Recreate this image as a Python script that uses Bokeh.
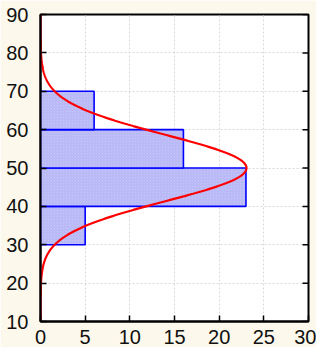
import numpy as np
from bokeh.plotting import figure
from bokeh.models import FixedTicker, Range1d
from bokeh.embed import file_html
from bokeh.resources import INLINE

# Histogram data (horizontal bars)
bin_lower = [30, 40, 50, 60]
bin_upper = [40, 50, 60, 70]
counts = [5, 23, 16, 6]

# Fitted normal curve parameters
fit_mean = 50.0
fit_sd = 8.65
n_obs = sum(counts)
bin_width = 10

x_ticks = [0, 5, 10, 15, 20, 25, 30]
y_ticks = [10, 20, 30, 40, 50, 60, 70, 80, 90]

BG = "#fdf8ec"
FONT = "Liberation Sans"

p = figure(width=316, height=347, output_backend="svg", toolbar_location=None,
           x_range=Range1d(0, 30), y_range=Range1d(10, 90),
           background_fill_color="white", border_fill_color=BG,
           min_border_left=40, min_border_right=8, min_border_top=14, min_border_bottom=26)

p.xaxis.ticker = FixedTicker(ticks=x_ticks)
p.yaxis.ticker = FixedTicker(ticks=y_ticks)
for ax in (p.xaxis[0], p.yaxis[0]):
    ax.major_tick_in = 6
    ax.major_tick_out = 0
    ax.minor_tick_line_color = None
    ax.axis_line_width = 2
    ax.axis_line_color = "black"
    ax.major_tick_line_color = "black"
    ax.major_tick_line_width = 1.5
    ax.major_label_text_font = FONT
    ax.major_label_text_font_size = "20px"
    ax.major_label_text_color = "#111111"
p.xaxis.major_label_standoff = 8
p.yaxis.major_label_standoff = 12

p.outline_line_color = "black"
p.outline_line_width = 2

p.grid.grid_line_color = "#d8d8d8"
p.grid.grid_line_dash = "2 2"
p.grid.grid_line_width = 1

centers = [(a + b) / 2 for a, b in zip(bin_lower, bin_upper)]
heights = [b - a for a, b in zip(bin_lower, bin_upper)]
p.hbar(y=centers, left=0, right=counts, height=heights,
       fill_color="#c4c4fb", line_color="#0000ff", line_width=1.6,
       hatch_pattern="/", hatch_color="#aaaaee", hatch_scale=3, hatch_weight=0.6)

ys = np.linspace(10, 90, 400)
xs = n_obs * bin_width / (fit_sd * np.sqrt(2 * np.pi)) * np.exp(-0.5 * ((ys - fit_mean) / fit_sd) ** 2)
p.line(xs, ys, line_color="#ff0000", line_width=2.2)

# inward tick marks on the right edge of the frame
p.ray(x=[x_ticks[-1]] * len(y_ticks), y=y_ticks, length=6, length_units="screen",
      angle=np.pi, line_color="black", line_width=1.5)

open("out.html", "w").write(file_html(p, INLINE))
